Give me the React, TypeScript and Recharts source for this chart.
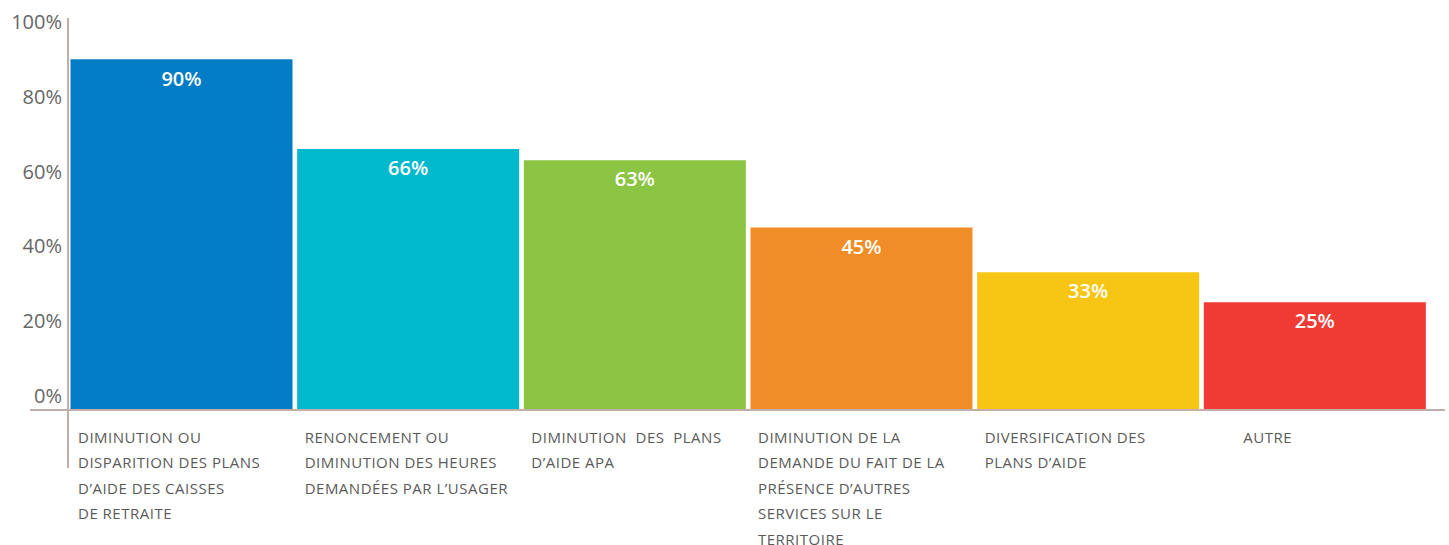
import { BarChart, Bar, XAxis, YAxis, Cell, LabelList } from "recharts"

const categories = [
  "Diminution ou disparition des plans d'aide des caisses de retraite",
  "Renoncement ou diminution des heures demandées par l'usager",
  "Diminution des plans d'aide APA",
  "Diminution de la demande du fait de la présence d'autres services sur le territoire",
  "Diversification des plans d'aide",
  "Autre",
]
const values = [90, 66, 63, 45, 33, 25]
const tickLines = [
  ["DIMINUTION OU", "DISPARITION DES PLANS", "D\u2019AIDE DES CAISSES", "DE RETRAITE"],
  ["RENONCEMENT OU", "DIMINUTION DES HEURES", "DEMANDÉES PAR L\u2019USAGER"],
  ["DIMINUTION  DES  PLANS", "D\u2019AIDE APA"],
  ["DIMINUTION DE LA", "DEMANDE DU FAIT DE LA", "PRÉSENCE D\u2019AUTRES", "SERVICES SUR LE", "TERRITOIRE"],
  ["DIVERSIFICATION DES", "PLANS D\u2019AIDE"],
  ["AUTRE"],
]
const yTicks = [0, 20, 40, 60, 80, 100]
const COLORS = ["#007dc5", "#00b9cc", "#8bc543", "#f18d27", "#f7c614", "#ef3b33"]

// in the original the 0% line sits a bit above the bar bottoms
const AXIS_MIN = -3.6

const W = 1449
const H = 545
const LEFT = 68
const RIGHT = 21
const TOP = 22
const XAXIS_H = 136
const AXIS_COLOR = "#c2aeab"
const FONT = "'Open Sans', 'Noto Sans', sans-serif"

const data = categories.map((name, i) => ({ name, pct: values[i], range: [AXIS_MIN, values[i]] }))
const bandWidth = (W - LEFT - RIGHT) / categories.length

function CategoryTick(props: any) {
  const { x, y, payload } = props
  const lines = tickLines[payload.index] || []
  const indent = payload.index === 5 ? 32 : 0
  const left = x - bandWidth / 2 + 10 + indent
  return (
    <text
      x={left}
      y={y + 26}
      fill="#5a5a5a"
      fontSize={15}
      letterSpacing={0.5}
      fontFamily={FONT}
      textAnchor="start"
    >
      {lines.map((l, i) => (
        <tspan key={i} x={left} dy={i === 0 ? 0 : 25.4} style={{ whiteSpace: "pre" }}>
          {l}
        </tspan>
      ))}
    </text>
  )
}

export default function App() {
  const baseline = H - XAXIS_H
  return (
    <div style={{ position: "absolute", left: 0, top: 0, width: W, height: H, background: "#fff" }}>
      <BarChart
        width={W}
        height={H}
        data={data}
        margin={{ top: TOP, right: RIGHT, bottom: 0, left: 0 }}
        barCategoryGap={2.5}
      >
        <XAxis
          dataKey="name"
          height={XAXIS_H}
          axisLine={false}
          tickLine={false}
          interval={0}
          tick={<CategoryTick />}
        />
        <YAxis
          width={LEFT}
          domain={[AXIS_MIN, 100]}
          allowDataOverflow
          ticks={yTicks}
          tickFormatter={(v: number) => `${v}%`}
          axisLine={false}
          tickLine={false}
          tickSize={0}
          tickMargin={6}
          tick={{ fill: "#666", fontSize: 20, fontFamily: FONT }}
        />
        <Bar dataKey="range" isAnimationActive={false}>
          {data.map((_, i) => (
            <Cell key={`cell-${i}`} fill={COLORS[i % COLORS.length]} />
          ))}
          <LabelList
            dataKey="pct"
            position="insideTop"
            offset={12}
            formatter={(v: any) => `${v}%`}
            fill="#fff"
            fontSize={20}
            fontWeight={600}
            fontFamily={FONT}
          />
        </Bar>
      </BarChart>
      {/* axis lines run past the plot area in the original */}
      <div
        style={{ position: "absolute", left: LEFT - 1, top: 18, width: 2, height: 450, background: AXIS_COLOR }}
      />
      <div
        style={{ position: "absolute", left: 30, top: baseline, width: W - 34, height: 2, background: AXIS_COLOR }}
      />
    </div>
  )
}
